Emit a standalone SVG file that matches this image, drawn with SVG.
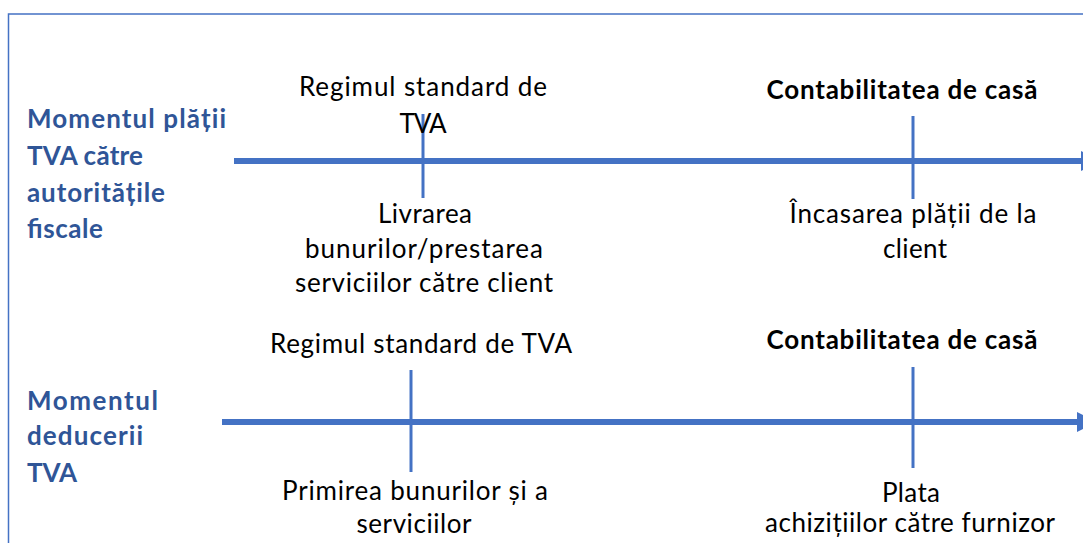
<svg xmlns="http://www.w3.org/2000/svg" width="1083" height="543" viewBox="0 0 1083 543">
  <style>
    .frame { fill: none; stroke: #4472C4; stroke-width: 1.5; }
    .axis { stroke: #4472C4; stroke-width: 6; fill: none; }
    .tick { stroke: #4472C4; stroke-width: 3; }
    .lbl { font-family: Lato, "Open Sans", "Liberation Sans", sans-serif; font-size: 26px; fill: #000000; text-anchor: middle; }
    .lbl-b { font-weight: bold; }
    .side { font-family: Lato, "Open Sans", "Liberation Sans", sans-serif; font-size: 26px; font-weight: bold; fill: #2F5597; }
  </style>
  <defs>
    <marker id="head" markerUnits="userSpaceOnUse" markerWidth="20" markerHeight="20" refX="0" refY="10" orient="auto">
      <path d="M0,0 L20,10 L0,20 Z" fill="#4472C4"/>
    </marker>
  </defs>

  <rect width="1083" height="543" fill="#ffffff"/>
  <!-- outer frame: top and left edges only, the rest runs off the canvas -->
  <path class="frame" d="M8.5,543 V14 H1083"/>

  <!-- timeline axes and their tick marks -->
  <g id="connectors">
    <line class="axis" x1="234" y1="161" x2="1081" y2="161" marker-end="url(#head)"/>
    <line class="tick" x1="423" y1="114" x2="423" y2="198"/>
    <line class="tick" x1="913" y1="116" x2="913" y2="199"/>
    <line class="axis" x1="222" y1="422" x2="1077" y2="422" marker-end="url(#head)"/>
    <line class="tick" x1="411" y1="370" x2="411" y2="472"/>
    <line class="tick" x1="913" y1="367" x2="913" y2="468"/>
  </g>

  <!-- row headings -->
  <g id="row-payment">
    <text class="side" x="27" y="128" textLength="199" lengthAdjust="spacing">Momentul plății</text>
    <text class="side" x="27" y="165" textLength="116" lengthAdjust="spacing">TVA către</text>
    <text class="side" x="27" y="202" textLength="138" lengthAdjust="spacing">autoritățile</text>
    <text class="side" x="27" y="238" textLength="76" lengthAdjust="spacing">fiscale</text>
  </g>
  <g id="row-deduction">
    <text class="side" x="27" y="410" textLength="131" lengthAdjust="spacing">Momentul</text>
    <text class="side" x="27" y="445" textLength="116" lengthAdjust="spacing">deducerii</text>
    <text class="side" x="27" y="482" textLength="50" lengthAdjust="spacing">TVA</text>
  </g>

  <!-- first timeline -->
  <g id="standard-top">
    <text class="lbl" x="423" y="96" textLength="248" lengthAdjust="spacing">Regimul standard de</text>
    <text class="lbl" x="423" y="133" textLength="47" lengthAdjust="spacing">TVA</text>
  </g>
  <g id="delivery">
    <text class="lbl" x="425" y="223" textLength="94" lengthAdjust="spacing">Livrarea</text>
    <text class="lbl" x="424" y="258" textLength="238" lengthAdjust="spacing">bunurilor/prestarea</text>
    <text class="lbl" x="424" y="292" textLength="258" lengthAdjust="spacing">serviciilor către client</text>
  </g>
  <g id="cash-top">
    <text class="lbl lbl-b" x="902" y="99" textLength="271" lengthAdjust="spacing">Contabilitatea de casă</text>
  </g>
  <g id="collection">
    <text class="lbl" x="913" y="223" textLength="247" lengthAdjust="spacing">Încasarea plății de la</text>
    <text class="lbl" x="915" y="258" textLength="64" lengthAdjust="spacing">client</text>
  </g>

  <!-- second timeline -->
  <g id="standard-bottom">
    <text class="lbl" x="421" y="353" textLength="302" lengthAdjust="spacing">Regimul standard de TVA</text>
  </g>
  <g id="receipt">
    <text class="lbl" x="415" y="500" textLength="266" lengthAdjust="spacing">Primirea bunurilor și a</text>
    <text class="lbl" x="414" y="533" textLength="115" lengthAdjust="spacing">serviciilor</text>
  </g>
  <g id="cash-bottom">
    <text class="lbl lbl-b" x="902" y="349" textLength="271" lengthAdjust="spacing">Contabilitatea de casă</text>
  </g>
  <g id="purchase-payment">
    <text class="lbl" x="911" y="502" textLength="58" lengthAdjust="spacing">Plata</text>
    <text class="lbl" x="910" y="532" textLength="290" lengthAdjust="spacing">achizițiilor către furnizor</text>
  </g>
</svg>
